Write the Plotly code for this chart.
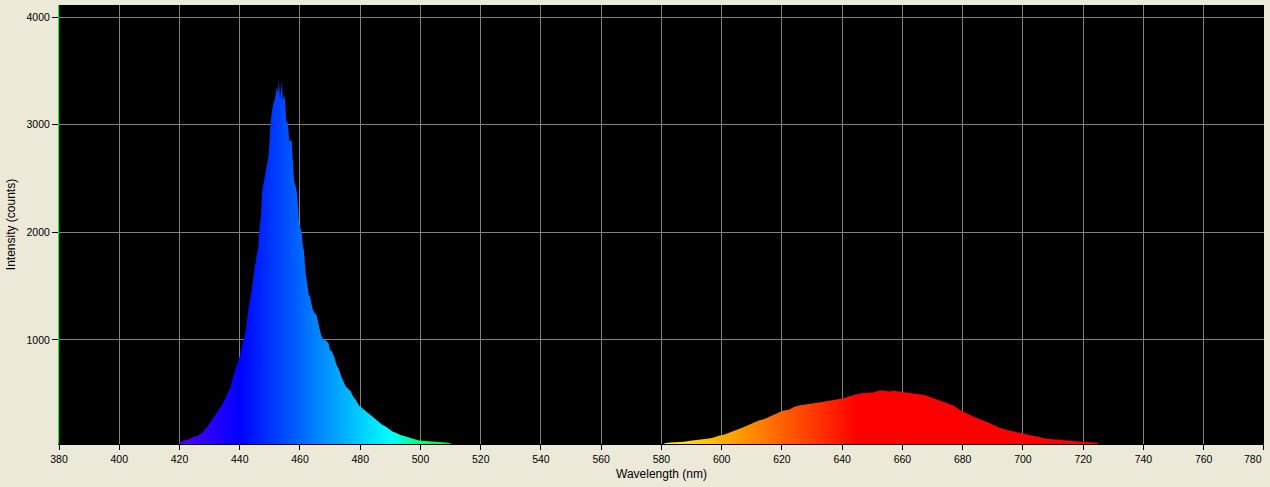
import plotly.graph_objects as go

# Blue LED emission band (wavelength nm, counts)
blue_wl = [419.5, 420, 421, 422, 423, 424, 425, 426, 427, 428, 429, 430, 431, 432, 433, 434, 435,
           436, 437, 438, 439, 440, 441, 442, 443, 444, 445, 445.8, 446.2, 446.4, 446.8, 447.1,
           447.4, 447.9, 448.3, 448.8, 449.2, 449.6, 449.8, 450.3, 450.9, 451.2, 451.7, 452.0,
           452.3, 452.7, 453.0, 453.4, 454.0, 454.3, 454.8, 455.1, 455.4, 455.8, 456.1, 456.4,
           457.0, 457.3, 457.8, 458.1, 458.6, 458.9, 459.2, 459.7, 460.1, 460.6, 460.9, 461.3,
           461.8, 462.2, 462.9, 463.3, 463.7, 464.2, 464.9, 465.5, 466.2, 466.6, 467.1, 467.7,
           468.6, 469.5, 469.9, 470.6, 471.4, 472.1, 473.0, 473.7, 474.4, 475.2, 476.1, 476.9,
           477.6, 478.5, 479.6, 480.7, 481.8, 482.9, 484.0, 485.1, 486.2, 487.3, 488.4, 489.5,
           490.7, 491.8, 493.4, 495.1, 497.3, 499.5, 501.7, 503.9, 506.1, 508.3, 510.0, 510.5]
blue_counts = [0, 46, 56, 70, 71, 90, 102, 105, 127, 149, 180, 223, 257, 304, 341, 393, 443,
               511, 567, 675, 768, 845, 969, 1093, 1310, 1465, 1681, 1814, 1876, 1985, 2084, 2170,
               2371, 2455, 2495, 2588, 2681, 2721, 2827, 3037, 3161, 3192, 3229, 3285,
               3347, 3300, 3418, 3238, 3400, 3223, 3275, 3217, 3037, 3028, 2985, 2851,
               2858, 2836, 2573, 2471, 2424, 2381, 2294, 2077, 2046, 1985, 1876, 1836,
               1635, 1542, 1418, 1402, 1341, 1285, 1248, 1232, 1139, 1093, 1037, 1006,
               994, 969, 907, 892, 839, 768, 721, 659, 613, 567, 542, 520,
               474, 443, 390, 365, 334, 310, 282, 257, 232, 211, 195, 173,
               149, 136, 115, 102, 87, 65, 59, 56, 50, 46, 40, 0]

# Red phosphor emission band (wavelength nm, counts)
red_wl = [580.5, 581, 583, 585.2, 587.4, 589.6, 591.8, 594.1, 595.7, 597.4, 599, 600.7, 602.4,
          604, 605.7, 607.4, 609, 610.7, 612.3, 614, 615.7, 617.3, 619, 620.6, 622.3, 624,
          625.6, 627.3, 628.9, 630.6, 632.3, 633.9, 635.6, 637.3, 638.9, 640.6, 642.2, 643.9,
          645.6, 647.2, 648.9, 650.5, 652.2, 653.9, 655.5, 657.2, 658.8, 660.5, 662.2, 663.8,
          665.5, 667.2, 668.8, 670.5, 672.1, 673.8, 675.5, 677.1, 678.9, 681.1, 683.3, 685.5,
          687.7, 689.9, 692.2, 694.4, 696.6, 698.8, 701, 703.2, 705.4, 707.6, 709.8, 712,
          714.3, 716.5, 718.7, 720.9, 723.1, 724.8, 725.3]
red_counts = [0, 40, 45, 47, 53, 62, 68, 78, 84, 93, 109, 118, 134,
              149, 171, 189, 208, 232, 251, 263, 288, 304, 325, 344, 350, 375,
              390, 396, 402, 412, 418, 424, 434, 443, 449, 458, 474, 490,
              499, 505, 511, 511, 530, 530, 520, 527, 520, 514, 511, 505,
              496, 487, 474, 458, 437, 421, 404, 387, 350, 319, 288, 263,
              241, 210, 183, 164, 149, 139, 118, 109, 96, 81, 75, 68,
              62, 59, 56, 50, 44, 44, 0]

x_ticks = list(range(380, 781, 20))
x_labels = [str(v) for v in x_ticks]
y_ticks = [1000, 2000, 3000, 4000]


def wl_rgb(w):
    if w < 440:
        r, g, b = (440 - w) / 60, 0.0, 1.0
    elif w < 490:
        r, g, b = 0.0, (w - 440) / 50, 1.0
    elif w < 510:
        r, g, b = 0.0, 1.0, (510 - w) / 20
    elif w < 580:
        r, g, b = (w - 510) / 70, 1.0, 0.0
    elif w < 645:
        r, g, b = 1.0, (645 - w) / 65, 0.0
    else:
        r, g, b = 1.0, 0.0, 0.0
    return f"rgb({round(r*255)},{round(g*255)},{round(b*255)})"


steps = list(range(380, 781, 5))
spectrum_scale = [[(s - 380) / 400, wl_rgb(s)] for s in steps]

fig = go.Figure()
for xs, ys in ((blue_wl, blue_counts), (red_wl, red_counts)):
    fig.add_trace(go.Scatter(
        x=xs, y=ys, mode="lines", line=dict(width=0),
        fill="tozeroy",
        fillgradient=dict(type="horizontal", colorscale=spectrum_scale, start=380, stop=780),
        hoverinfo="x+y", showlegend=False,
    ))

# the last tick label sits at the right window edge: draw it right-aligned to its tick
tick_text = x_labels[:-1] + [""]
fig.add_annotation(
    x=x_ticks[-1], xref="x", xanchor="right", xshift=0,
    y=0, yref="paper", yanchor="top", yshift=-7,
    text=x_labels[-1], showarrow=False,
    font=dict(size=10.5, color="black"),
)

font_main = "Liberation Sans, Arial, sans-serif"
fig.update_layout(
    width=1270, height=487,
    margin=dict(l=59, r=6, t=5, b=43, autoexpand=False),
    paper_bgcolor="#ECE9D8", plot_bgcolor="black",
    font=dict(family=font_main, size=11, color="black"),
    xaxis=dict(
        range=[380, 780.03], tickvals=x_ticks, ticktext=tick_text,
        automargin=False,
        showgrid=True, gridcolor="#808080", gridwidth=1,
        showline=True, linecolor="black", linewidth=1,
        ticks="outside", ticklen=5, tickcolor="black",
        zeroline=False, tickfont=dict(size=10.5),
        title=dict(text="Wavelength (nm)", font=dict(size=12), standoff=6),
    ),
    yaxis=dict(
        range=[32, 4112], tickvals=y_ticks, ticktext=[str(v) for v in y_ticks],
        automargin=False,
        showgrid=True, gridcolor="#808080", gridwidth=1,
        showline=True, linecolor="#00FF00", linewidth=1,
        ticks="outside", ticklen=6, tickcolor="black",
        zeroline=False, tickfont=dict(size=10.5),
        title=dict(text="Intensity (counts)", font=dict(size=12), standoff=8),
    ),
)

fig.write_html(
    "out.html",
    config={"displayModeBar": False},
    post_script="document.body.style.margin='0';document.body.style.background='#ECE9D8';",
)
